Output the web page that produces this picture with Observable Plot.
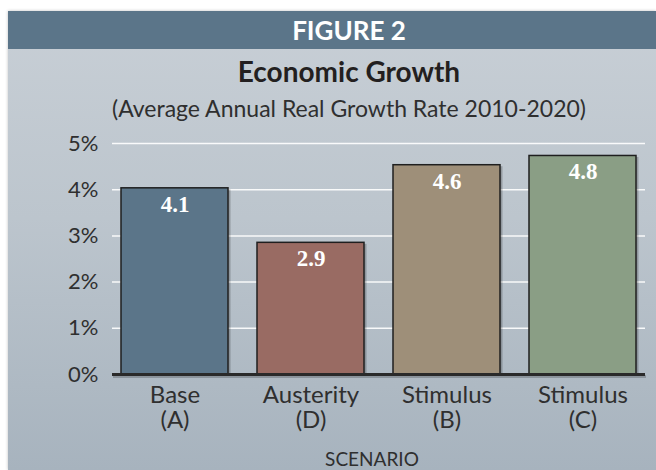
<!DOCTYPE html>
<html>
<head>
<meta charset="utf-8">
<script src="https://cdn.jsdelivr.net/npm/d3@7"></script>
<script src="https://cdn.jsdelivr.net/npm/@observablehq/plot@0.6"></script>
<style>
  html, body { margin: 0; padding: 0; background: #fff; }
  #page { position: relative; width: 656px; height: 470px; overflow: hidden; background: #fff; font-family: Lato, "Open Sans", sans-serif; }
  #box { position: absolute; left: 8px; top: 11px; width: 648px; height: 459px;
         background: linear-gradient(to bottom, #c8cfd6 0%, #bcc5cd 45%, #a7b3be 100%);
         box-shadow: 0 0 3px rgba(0,0,0,0.25); }
  #band { position: absolute; left: 8px; top: 11px; width: 648px; height: 38px; background: #5b7589; }
  .t { position: absolute; white-space: nowrap; line-height: 1; text-align: center; }
  #fig { left: 49px; width: 600px; top: 17px; font-size: 26px; font-weight: 700; color: #fff; }
  #title { left: 49px; width: 600px; top: 57px; font-size: 28px; font-weight: 700; color: #231f20; }
  #sub { left: 49px; width: 600px; top: 97px; font-size: 23px; color: #2f2f2f; }
  #xlab { left: 172px; width: 400px; top: 449px; font-size: 19px; color: #2f2f2f; }
  #chart { position: absolute; left: 0; top: 125px; }
</style>
</head>
<body>
<div id="page">
  <div id="box"></div>
  <div id="band"></div>
  <div class="t" id="fig">FIGURE 2</div>
  <div class="t" id="title">Economic Growth</div>
  <div class="t" id="sub">(Average Annual Real Growth Rate 2010-2020)</div>
  <div id="chart"></div>
  <div class="t" id="xlab">SCENARIO</div>
</div>
<script>
// Data
const scenarios = ["Base", "Austerity", "Stimulus", "Stimulus"];
const letters = ["A", "D", "B", "C"];
const barHeights = [4.03, 2.85, 4.53, 4.73];   // drawn bar heights (%)
const valueLabels = ["4.1", "2.9", "4.6", "4.8"]; // printed labels
const barColors = ["#5b7589", "#996b63", "#9e8f79", "#8a9e85"];
const yTicks = [0, 1, 2, 3, 4, 5];

const keys = scenarios.map((s, i) => `${s}\n(${letters[i]})`);
const data = keys.map((k, i) => ({key: k, value: barHeights[i], label: valueLabels[i], color: barColors[i]}));

const chart = Plot.plot({
  width: 656,
  height: 345,
  marginLeft: 112,
  marginRight: 11,
  marginTop: 18,
  marginBottom: 96,
  style: {background: "transparent", fontFamily: "Lato, sans-serif", color: "#2f2f2f", overflow: "visible"},
  x: {domain: keys, paddingInner: 0.215, paddingOuter: 0.06, label: null},
  y: {domain: [0, 5], label: null},
  marks: [
    Plot.gridY(yTicks.slice(1), {stroke: "#ffffff", strokeOpacity: 0.9, strokeWidth: 1.5}),
    Plot.axisY(yTicks, {tickSize: 0, tickPadding: 14, fontSize: 22, tickFormat: d => d + "%", fill: "#2f2f2f"}),
    Plot.barY(data, {x: "key", y: "value", fill: "#000", fillOpacity: 0.22, dx: 2.5, dy: 1.5}),
    Plot.barY(data, {x: "key", y: "value", fill: "color", stroke: "#1f1f1f", strokeWidth: 1.5}),
    Plot.text(data, {x: "key", y: "value", text: "label", lineAnchor: "top", dy: 7,
      fill: "#fff", fontSize: 23, fontWeight: 700, fontFamily: "'Liberation Serif', 'DejaVu Serif', serif"}),
    Plot.ruleY([0], {stroke: "#000", strokeOpacity: 0.2, strokeWidth: 3, dy: 2, dx: 1}),
    Plot.ruleY([0], {stroke: "#2a2a2a", strokeWidth: 3}),
    Plot.axisX({tickSize: 0, tickPadding: 11, fontSize: 24, lineHeight: 1.03, fill: "#2f2f2f", label: null})
  ]
});
document.getElementById("chart").appendChild(chart);
</script>
</body>
</html>
